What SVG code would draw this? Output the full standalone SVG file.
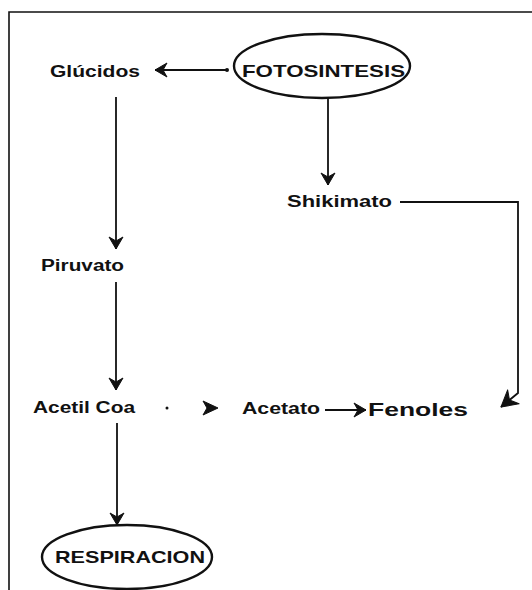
<svg xmlns="http://www.w3.org/2000/svg" width="532" height="590" viewBox="0 0 532 590">
<style>
  .t { font-family: "Liberation Sans", Arial, sans-serif; font-weight: bold; fill: #111; }
  .c { stroke: #111; stroke-width: 1.8; fill: none; }
  .e { stroke: #111; stroke-width: 2.4; fill: #fff; }
</style>
<defs>
  <marker id="ah" viewBox="0 0 14 16" refX="13" refY="8" markerWidth="14" markerHeight="16" markerUnits="userSpaceOnUse" orient="auto">
    <path d="M1,1 L13,8 L1,15 L5,8 z" fill="#111" stroke="#111" stroke-width="1" stroke-linejoin="round"/>
  </marker>
  <marker id="ahb" viewBox="0 0 18 20" refX="17" refY="10" markerWidth="18" markerHeight="20" markerUnits="userSpaceOnUse" orient="auto">
    <path d="M1,1 L17,10 L1,19 L6,10 z" fill="#111" stroke="#111" stroke-width="1" stroke-linejoin="round"/>
  </marker>
</defs>
<rect width="532" height="590" fill="#fff"/>
<g id="frame">
  <path d="M9,590 V12 H532" stroke="#111" stroke-width="1.6" fill="none"/>
</g>
<g id="connectors">
  <path class="c" d="M227,70 H155" marker-end="url(#ah)"/>
  <circle cx="227" cy="70" r="2" fill="#111"/>
  <path class="c" d="M328,98 V185" marker-end="url(#ah)"/>
  <path class="c" d="M116,97 V249" marker-end="url(#ah)"/>
  <path class="c" d="M116,282 V390" marker-end="url(#ah)"/>
  <path class="c" d="M117,423 V525" marker-end="url(#ah)"/>
  <circle cx="167" cy="408" r="1.5" fill="#111"/>
  <path d="M203,401 L218,408 L203,415 L207,408 z" fill="#111" stroke="#111" stroke-width="1" stroke-linejoin="round"/>
  <path class="c" d="M325,410 H366" marker-end="url(#ah)"/>
  <path class="c" d="M400,202 H518 V393 L501,407" marker-end="url(#ahb)"/>
</g>
<g id="n-fotosintesis">
  <ellipse class="e" cx="322" cy="66" rx="88" ry="32"/>
  <text class="t" x="242" y="77" font-size="17" textLength="163" lengthAdjust="spacingAndGlyphs">FOTOSINTESIS</text>
</g>
<g id="n-glucidos">
  <text class="t" x="50" y="77" font-size="16" textLength="90" lengthAdjust="spacingAndGlyphs">Glúcidos</text>
</g>
<g id="n-shikimato">
  <text class="t" x="287" y="207" font-size="16" textLength="105" lengthAdjust="spacingAndGlyphs">Shikimato</text>
</g>
<g id="n-piruvato">
  <text class="t" x="41" y="271" font-size="16" textLength="83" lengthAdjust="spacingAndGlyphs">Piruvato</text>
</g>
<g id="n-acetilcoa">
  <text class="t" x="33" y="413" font-size="16" textLength="102" lengthAdjust="spacingAndGlyphs">Acetil Coa</text>
</g>
<g id="n-acetato">
  <text class="t" x="242" y="414" font-size="16" textLength="78" lengthAdjust="spacingAndGlyphs">Acetato</text>
</g>
<g id="n-fenoles">
  <text class="t" x="368" y="416" font-size="18" textLength="100" lengthAdjust="spacingAndGlyphs">Fenoles</text>
</g>
<g id="n-respiracion">
  <ellipse class="e" cx="127" cy="557" rx="85" ry="32"/>
  <text class="t" x="55" y="563" font-size="17" textLength="150" lengthAdjust="spacingAndGlyphs">RESPIRACION</text>
</g>
</svg>
